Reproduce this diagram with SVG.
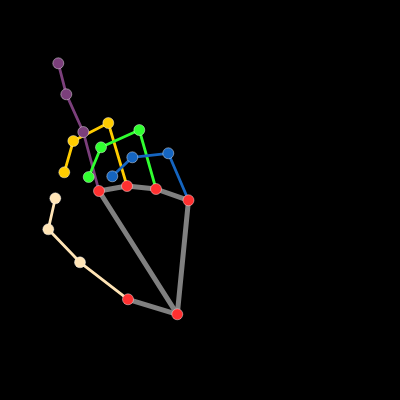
<svg xmlns="http://www.w3.org/2000/svg" width="400" height="400" viewBox="0 0 400 400">
<style>
.n{stroke:#ffffff;stroke-width:0.6;stroke-opacity:0.7}
.c{fill:none;stroke-linecap:round;stroke-linejoin:round}
.palm{stroke:#808080;stroke-width:5}
.f{stroke-width:2.8}
</style>
<rect width="400" height="400" fill="#000000"/>
<g id="connectors">
<polyline class="c palm" points="99,191 127,186 156,189 188.5,200.3 177.3,314.3 99,191"/>
<polyline class="c palm" points="177.3,314.3 128,299.3"/>
<polyline class="c f" stroke="#ffe4b5" points="128,299.3 80,262.3 48.3,229.3 55.3,198.3"/>
<polyline class="c f" stroke="#7b3f7b" points="99,191 83.3,132 66.3,94.3 58.3,63.3"/>
<polyline class="c f" stroke="#ffcc00" points="127,186 108.3,123 73.3,141 64.3,172.3"/>
<polyline class="c f" stroke="#30ff30" points="156,189 139.3,130 101,147.3 88.7,177"/>
<polyline class="c f" stroke="#1565c0" points="188.5,200.3 168.3,153.3 132.3,157.3 112.3,176.3"/>
</g>
<g id="thumb" fill="#ffe4b5">
<circle id="t1" class="n" cx="80" cy="262.3" r="5.5"/>
<circle id="t2" class="n" cx="48.3" cy="229.3" r="5.5"/>
<circle id="t3" class="n" cx="55.3" cy="198.3" r="5.5"/>
</g>
<g id="pinky" fill="#7b3f7b">
<circle id="p1" class="n" cx="83.3" cy="132" r="5.5"/>
<circle id="p2" class="n" cx="66.3" cy="94.3" r="5.5"/>
<circle id="p3" class="n" cx="58.3" cy="63.3" r="5.5"/>
</g>
<g id="ring" fill="#ffcc00">
<circle id="y1" class="n" cx="108.3" cy="123" r="5.5"/>
<circle id="y2" class="n" cx="73.3" cy="141" r="5.5"/>
<circle id="y3" class="n" cx="64.3" cy="172.3" r="5.5"/>
</g>
<g id="middle" fill="#30ff30">
<circle id="g1" class="n" cx="139.3" cy="130" r="5.5"/>
<circle id="g2" class="n" cx="101" cy="147.3" r="5.5"/>
<circle id="g3" class="n" cx="88.7" cy="177" r="5.5"/>
</g>
<g id="index" fill="#1565c0">
<circle id="b1" class="n" cx="168.3" cy="153.3" r="5.5"/>
<circle id="b2" class="n" cx="132.3" cy="157.3" r="5.5"/>
<circle id="b3" class="n" cx="112.3" cy="176.3" r="5.5"/>
</g>
<g id="palm" fill="#ff3030">
<circle id="m0" class="n" cx="177.3" cy="314.3" r="5.5"/>
<circle id="m1" class="n" cx="128" cy="299.3" r="5.5"/>
<circle id="m2" class="n" cx="99" cy="191" r="5.5"/>
<circle id="m3" class="n" cx="127" cy="186" r="5.5"/>
<circle id="m4" class="n" cx="156" cy="189" r="5.5"/>
<circle id="m5" class="n" cx="188.5" cy="200.3" r="5.5"/>
</g>
</svg>
